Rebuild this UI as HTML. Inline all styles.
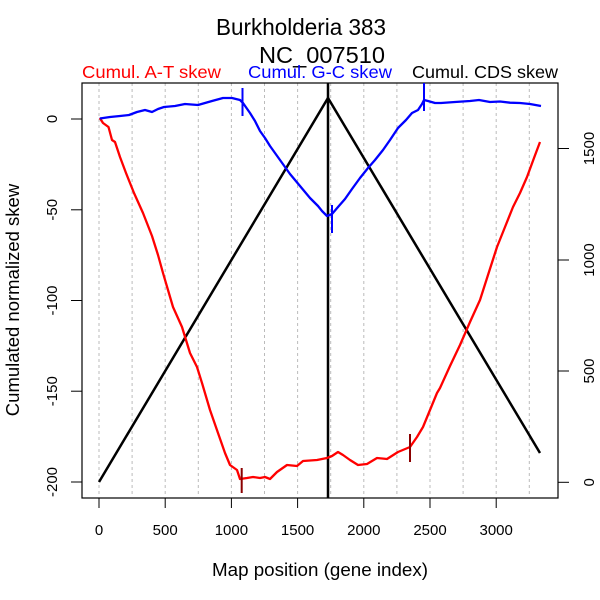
<!DOCTYPE html>
<html><head><meta charset="utf-8"><style>
html,body{margin:0;padding:0;background:#fff}
svg{display:block}
text{font-family:"Liberation Sans",Arial,sans-serif}
</style></head><body>
<svg width="600" height="600" viewBox="0 0 600 600" xmlns="http://www.w3.org/2000/svg">
<rect width="600" height="600" fill="#fff"/>
<text x="216" y="35" font-size="23" textLength="170" lengthAdjust="spacingAndGlyphs">Burkholderia 383</text>
<text x="259" y="63" font-size="23" textLength="126" lengthAdjust="spacingAndGlyphs">NC_007510</text>
<text x="82" y="78" font-size="17.5" fill="#ff0000" textLength="139" lengthAdjust="spacingAndGlyphs">Cumul. A-T skew</text>
<text x="248" y="78" font-size="17.5" fill="#0000ff" textLength="144" lengthAdjust="spacingAndGlyphs">Cumul. G-C skew</text>
<text x="412" y="78" font-size="17.5" fill="#000" textLength="146" lengthAdjust="spacingAndGlyphs">Cumul. CDS skew</text>
<!-- grid -->
<g stroke="#bbb" stroke-dasharray="3,3" stroke-width="1">
<line x1="99" y1="83" x2="99" y2="497"/><line x1="132.1" y1="83" x2="132.1" y2="497"/><line x1="165.2" y1="83" x2="165.2" y2="497"/><line x1="198.3" y1="83" x2="198.3" y2="497"/><line x1="231.4" y1="83" x2="231.4" y2="497"/><line x1="264.5" y1="83" x2="264.5" y2="497"/><line x1="297.6" y1="83" x2="297.6" y2="497"/><line x1="330.7" y1="83" x2="330.7" y2="497"/><line x1="363.8" y1="83" x2="363.8" y2="497"/><line x1="396.9" y1="83" x2="396.9" y2="497"/><line x1="430" y1="83" x2="430" y2="497"/><line x1="463.1" y1="83" x2="463.1" y2="497"/><line x1="496.2" y1="83" x2="496.2" y2="497"/><line x1="529.3" y1="83" x2="529.3" y2="497"/>
</g>
<!-- box -->
<rect x="82" y="83" width="476" height="415" fill="none" stroke="#000" stroke-width="1.2"/>
<g stroke="#000" stroke-width="1">
<line x1="99" y1="498" x2="99" y2="508"/><line x1="165.2" y1="498" x2="165.2" y2="508"/><line x1="231.4" y1="498" x2="231.4" y2="508"/><line x1="297.6" y1="498" x2="297.6" y2="508"/><line x1="363.8" y1="498" x2="363.8" y2="508"/><line x1="430" y1="498" x2="430" y2="508"/><line x1="496.2" y1="498" x2="496.2" y2="508"/>
<line x1="71" y1="119" x2="82" y2="119"/><line x1="71" y1="209.8" x2="82" y2="209.8"/><line x1="71" y1="300.5" x2="82" y2="300.5"/><line x1="71" y1="391.2" x2="82" y2="391.2"/><line x1="71" y1="482" x2="82" y2="482"/>
<line x1="558" y1="482.3" x2="569" y2="482.3"/><line x1="558" y1="371" x2="569" y2="371"/><line x1="558" y1="260" x2="569" y2="260"/><line x1="558" y1="148.5" x2="569" y2="148.5"/>
</g>
<g font-size="15" text-anchor="middle" fill="#000">
<text x="99" y="535">0</text><text x="165.2" y="535">500</text><text x="231.4" y="535">1000</text><text x="297.6" y="535">1500</text><text x="363.8" y="535">2000</text><text x="430" y="535">2500</text><text x="496.2" y="535">3000</text>
<text transform="translate(57,119) rotate(-90)">0</text>
<text transform="translate(57,209.8) rotate(-90)">-50</text>
<text transform="translate(57,300.5) rotate(-90)">-100</text>
<text transform="translate(57,391.2) rotate(-90)">-150</text>
<text transform="translate(57,482) rotate(-90)">-200</text>
<text transform="translate(594,482.3) rotate(-90)">0</text>
<text transform="translate(594,371) rotate(-90)">500</text>
<text transform="translate(594,260) rotate(-90)">1000</text>
<text transform="translate(594,148.5) rotate(-90)">1500</text>
</g>
<text x="212" y="576" font-size="18.5" textLength="216" lengthAdjust="spacingAndGlyphs">Map position (gene index)</text>
<text transform="translate(19,300) rotate(-90)" font-size="18.5" text-anchor="middle">Cumulated normalized skew</text>
<!-- CDS -->
<polyline points="99,482 328,98 540,453" fill="none" stroke="#000" stroke-width="2.5"/>
<line x1="328" y1="83" x2="328" y2="498" stroke="#000" stroke-width="2.5"/>
<!-- AT -->
<polyline fill="none" stroke="#ff0000" stroke-width="2.3" stroke-linejoin="round" points="99.8,118 103,123 108.5,127 112,140 115,142 120,157 126,173 134,193 143,213 152,236 158,255 163,273 168,290 173,307 182,327 190,353 197,367 202,383 210,410 218,433 225,453 230,465 237,470 240,479 247,478 253,477 260,478 265,477 270,479 277,472 287,465 297,466 303,461 317,460 327,458 332,456 338,452 343,455 350,460 358,465 367,464 377,458 387,459 398,452 410,447 417,437 423,427 430,410 437,393 440,388 450,366 460,345 470,322 480,300 488,275 497,247 505,227 513,207 520,193 527,177 534,158 540,142"/>
<line x1="241.7" y1="468" x2="241.7" y2="493" stroke="#8b0000" stroke-width="2"/>
<line x1="410" y1="434" x2="410" y2="462" stroke="#8b0000" stroke-width="2"/>
<!-- GC -->
<polyline fill="none" stroke="#0000ff" stroke-width="2.3" stroke-linejoin="round" points="99.8,118.5 110,117 120,116 129,115 137,112 145,110 152,112 158,109 164,107 175,106 185,104 198,105 205,103 212,101 223,98 232,98 240,100 243,103 250,113 255,121 260,131 265,138 270,146 275,153 280,160 285,167 290,174 295,180 300,186 305,192 310,198 318,206 322,211 327,216 332,214 338,207 345,199 352,189 360,178 368,168 375,160 383,150 390,140 398,128 406,120 412,113 418,110 422,104 424,100 428,101 435,103 441,103 455,102 470,101 479,100 490,102 500,101.5 510,102.7 520,103 530,104 541,106"/>
<line x1="242.5" y1="88" x2="242.5" y2="116" stroke="#0000ff" stroke-width="2"/>
<line x1="332" y1="205" x2="332" y2="233" stroke="#0000ff" stroke-width="2"/>
<line x1="424" y1="83" x2="424" y2="111" stroke="#0000ff" stroke-width="2"/>
</svg>
</body></html>
